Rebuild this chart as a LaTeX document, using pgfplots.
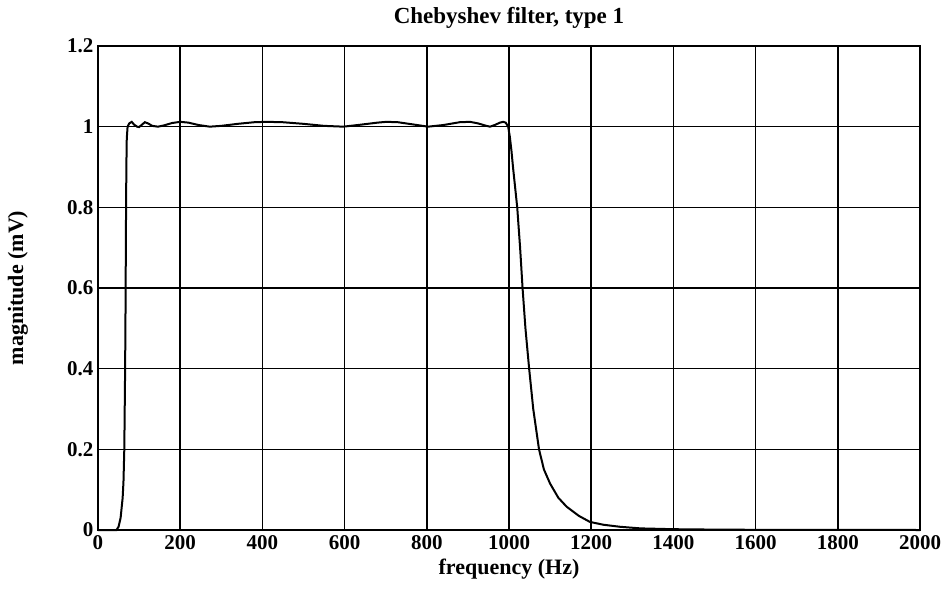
\documentclass[border=0pt]{standalone}
\usepackage{fontspec}
\setmainfont{Liberation Serif}
\usepackage{pgfplots}
\pgfplotsset{compat=1.18}
\newcommand{\lf}{\fontsize{22}{26}\selectfont\bfseries}
\begin{document}
\begin{tikzpicture}
\begin{axis}[
  scale only axis, width=822pt, height=484pt,
  xmin=0, xmax=2000, ymin=0, ymax=1.2,
  xtick={0,200,400,600,800,1000,1200,1400,1600,1800,2000},
  xticklabels={0,200,400,600,800,1000,1200,1400,1600,1800,2000},
  ytick={0,0.2,0.4,0.6,0.8,1,1.2},
  yticklabels={0,0.2,0.4,0.6,0.8,1,1.2},
  grid=major, major grid style={black, line width=1.6pt},
  axis line style={black, line width=2pt},
  major tick length=0pt,
  tick label style={font=\fontsize{21}{25}\selectfont\bfseries},
  xticklabel style={yshift=-2pt},
  yticklabel style={xshift=-1pt},
  title={Chebyshev filter, type 1},
  title style={font=\fontsize{23}{27}\selectfont\bfseries, at={(axis description cs:0.5,1)}, anchor=base, yshift=16pt},
  xlabel={frequency (Hz)},
  xlabel style={font=\lf, at={(axis description cs:0.5,-0.0805)}, anchor=center},
  ylabel={magnitude (mV)},
  ylabel style={font=\lf, at={(axis description cs:-0.0973,0.5)}, anchor=center},
  clip=false,
]
\addplot[black, line width=2pt] coordinates {
(0,0) (45,0) (50,0.008) (55,0.03) (60,0.08) (62,0.12) (64,0.2) (66,0.4) (67,0.55)
(68,0.75) (69,0.9) (70,0.97) (72,1.0) (76,1.008) (82,1.012) (88,1.005) (95,1.0)
(100,0.999) (107,1.005) (114,1.011) (122,1.008) (132,1.002) (146,1.0) (160,1.003)
(180,1.009) (200,1.012) (220,1.01) (245,1.004) (272,1.0) (300,1.002) (340,1.007)
(380,1.011) (410,1.012) (450,1.011) (500,1.007) (550,1.002) (597,1.0) (640,1.005)
(680,1.01) (702,1.012) (730,1.011) (770,1.005) (803,1.0) (840,1.004) (880,1.011)
(905,1.012) (925,1.008) (945,1.002) (954,1.0) (965,1.004) (978,1.01) (986,1.012)
(992,1.01) (998,1.0) (1002,0.975) (1006,0.94) (1010,0.897) (1020,0.8) (1027,0.7)
(1033,0.6) (1040,0.5) (1049,0.4) (1059,0.3) (1073,0.2) (1085,0.15) (1100,0.115)
(1120,0.08) (1140,0.058) (1170,0.035) (1197,0.02) (1230,0.013) (1270,0.008)
(1320,0.004) (1400,0.002) (1500,0.001) (1600,0.0005) (2000,0)
};
\coordinate (ll) at (rel axis cs:0,0);
\coordinate (ur) at (rel axis cs:1,1);
\end{axis}
\path ([shift={(-98pt,-76pt)}]ll) rectangle ([shift={(27pt,46pt)}]ur);
\end{tikzpicture}
\end{document}
